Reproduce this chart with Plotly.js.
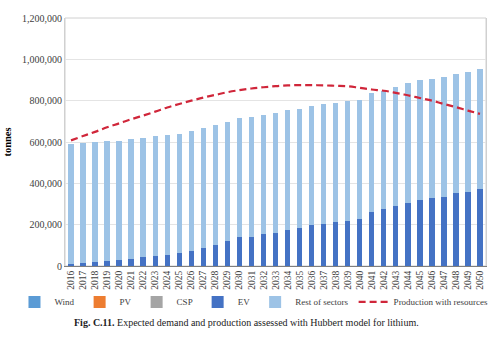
<!DOCTYPE html>
<html>
<head>
<meta charset="utf-8">
<script src="https://cdn.plot.ly/plotly-3.0.1.min.js"></script>
<style>html,body{margin:0;padding:0;background:#fff;}#chart{width:500px;height:351px;}</style>
</head>
<body>
<div id="chart"></div>
<script>
const years = ["2016","2017","2018","2019","2020","2021","2022","2023","2024","2025","2026","2027","2028","2029","2030","2031","2032","2033","2034","2035","2036","2037","2038","2039","2040","2041","2042","2043","2044","2045","2046","2047","2048","2049","2050"];
const totalDemand = [590000,594000,599000,603000,605000,615000,621000,628000,634000,640000,653000,668000,684000,697000,716000,721000,732000,739000,753000,760000,776000,782000,790000,798000,805000,837000,848000,866000,884000,899000,907000,913000,929000,939000,952000];
const ev = [10000,16000,19000,24000,29000,35000,43000,48000,55000,61000,74000,89000,103000,121000,139000,142000,153000,161000,176000,182000,198000,205000,213000,219000,227000,261000,276000,290000,306000,321000,328000,336000,352000,360000,374000];
const wind = years.map(() => 0);
const pv = years.map(() => 0);
const csp = years.map(() => 0);
const rest = totalDemand.map((t, i) => t - ev[i]);
const production = [608000,629000,649000,671000,690000,710000,728000,747000,767000,784000,800000,815000,828000,841000,851000,859000,865000,870000,874000,875000,875000,874000,872000,870000,862000,854000,848000,838000,826000,813000,800000,784000,769000,752000,736000];

const serif = "Liberation Serif, Times New Roman, serif";
const traces = [
  {type:"bar", name:"Wind", x:years, y:wind, marker:{color:"#5B9BD5"}},
  {type:"bar", name:"PV", x:years, y:pv, marker:{color:"#ED7D31"}},
  {type:"bar", name:"CSP", x:years, y:csp, marker:{color:"#A5A5A5"}},
  {type:"bar", name:"EV", x:years, y:ev, marker:{color:"#4472C4"}},
  {type:"bar", name:"Rest of sectors", x:years, y:rest, marker:{color:"#9DC3E6"}},
  {type:"scatter", mode:"lines", name:"Production with resources", x:years, y:production,
   line:{color:"#D0263A", width:2.2, dash:"7px,4px", shape:"spline"}}
];
const layout = {
  width:500, height:351,
  margin:{l:65, r:14, t:18, b:85},
  paper_bgcolor:"#fff", plot_bgcolor:"#fff",
  barmode:"stack", bargap:0.55,
  font:{family:serif, size:10, color:"#404040"},
  showlegend:true,
  legend:{orientation:"h", x:-0.12, xanchor:"left", y:-0.145, yanchor:"middle",
          font:{family:serif, size:9, color:"#404040"}, traceorder:"normal",
          itemwidth:30, tracegroupgap:0, bgcolor:"rgba(0,0,0,0)"},
  xaxis:{type:"category", tickangle:-90, tickfont:{family:serif, size:9.5, color:"#404040"},
         showline:true, linecolor:"#7f7f7f", linewidth:1, mirror:false, ticks:"", showgrid:false,
         automargin:false},
  yaxis:{range:[0,1200000], dtick:200000, tickformat:",d", showgrid:true, gridcolor:"#e4e4e4",
         tickfont:{family:serif, size:10, color:"#404040"}, ticks:"", zeroline:false,
         showline:true, linecolor:"#d0d0d0", mirror:true, automargin:false,
         title:{text:"<b>tonnes</b>", font:{family:serif, size:10.5, color:"#000"}, standoff:8}},
  shapes:[{type:"rect", xref:"paper", yref:"paper", x0:0, x1:1, y0:0, y1:1,
           line:{color:"#d0d0d0", width:1}, fillcolor:"rgba(0,0,0,0)", layer:"below"}],
  annotations:[{xref:"paper", yref:"paper", x:0.43, y:-0.226, xanchor:"center", yanchor:"middle",
    showarrow:false, text:"<b>Fig. C.11.</b> Expected demand and production assessed with Hubbert model for lithium.",
    font:{family:serif, size:10, color:"#222"}}]
};
Plotly.newPlot("chart", traces, layout, {displayModeBar:false, staticPlot:true});
</script>
</body>
</html>
